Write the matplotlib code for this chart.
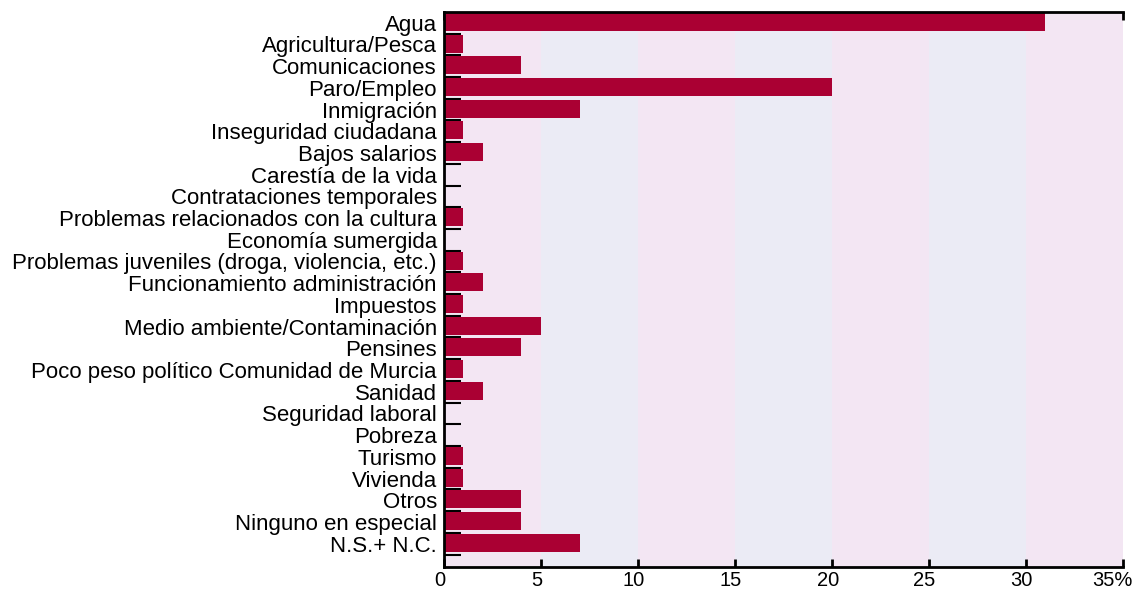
import matplotlib
matplotlib.use("Agg")
import matplotlib.pyplot as plt
import matplotlib.transforms as mtransforms
import numpy as np

plt.rcParams['font.family'] = ['Liberation Sans', 'DejaVu Sans']

# Datos
categorias = [
    "Agua", "Agricultura/Pesca", "Comunicaciones", "Paro/Empleo", "Inmigración",
    "Inseguridad ciudadana", "Bajos salarios", "Carestía de la vida",
    "Contrataciones temporales", "Problemas relacionados con la cultura",
    "Economía sumergida", "Problemas juveniles (droga, violencia, etc.)",
    "Funcionamiento administración", "Impuestos", "Medio ambiente/Contaminación",
    "Pensines", "Poco peso político Comunidad de Murcia", "Sanidad",
    "Seguridad laboral", "Pobreza", "Turismo", "Vivienda", "Otros",
    "Ninguno en especial", "N.S.+ N.C.",
]
porcentajes = [31, 1, 4, 20, 7, 1, 2, 0, 0, 1, 0, 1, 2, 1, 5, 4, 1, 2, 0, 0, 1, 1, 4, 4, 7]
xticks = [0, 5, 10, 15, 20, 25, 30, 35]
xlabels = ["0", "5", "10", "15", "20", "25", "30", "35%"]

fig = plt.figure(figsize=(11.35, 5.92), dpi=100)
ax = fig.add_axes([0.391, 0.042, 0.598, 0.938])

# Bandas de fondo alternas
for i in range(len(xticks) - 1):
    color = '#f3e6f3' if i % 2 == 0 else '#ebebf5'
    ax.axvspan(xticks[i], xticks[i + 1], color=color, zorder=0, lw=0)

y = np.arange(len(categorias))
ax.barh(y - 0.04, porcentajes, height=0.83, color='#aa0033', zorder=2)

ax.set_xlim(0, 35)
ax.set_ylim(25.08, -0.5)

ax.set_yticks(y)
ax.set_yticklabels(categorias, fontsize=16)
ax.tick_params(axis='y', which='major', length=0, pad=5)
ax.set_yticks(y + 0.5, minor=True)
ax.tick_params(axis='y', which='minor', direction='in', length=12.2, width=1.5,
               color='black', left=True)

ax.set_xticks(xticks)
ax.set_xticklabels(xlabels, fontsize=14.5)
ax.tick_params(axis='x', which='major', direction='in', length=6, width=2,
               top=True, pad=3)

# pequeños desplazamientos de las etiquetas del eje x
labels = ax.get_xticklabels()
for lab in labels[:-1]:
    lab.set_transform(lab.get_transform() +
                      mtransforms.ScaledTranslation(-4 / 100, 0, fig.dpi_scale_trans))
labels[-1].set_horizontalalignment('right')
labels[-1].set_transform(labels[-1].get_transform() +
                         mtransforms.ScaledTranslation(10 / 100, 0, fig.dpi_scale_trans))

for s in ['left', 'bottom', 'top']:
    ax.spines[s].set_linewidth(2)
    ax.spines[s].set_zorder(3)
ax.spines['right'].set_visible(False)

fig.savefig('out.png', dpi=100)
